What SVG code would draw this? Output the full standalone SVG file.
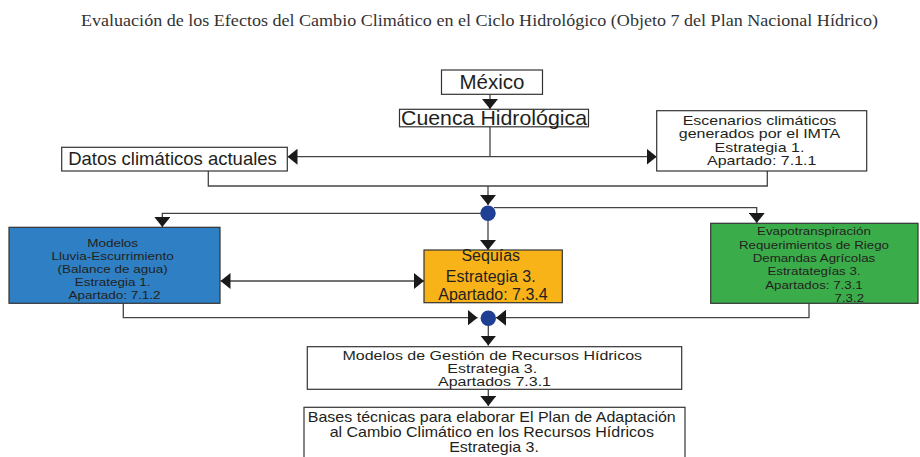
<svg xmlns="http://www.w3.org/2000/svg" width="920" height="457" viewBox="0 0 920 457">
<defs>
<marker id="ah" markerUnits="userSpaceOnUse" markerWidth="11" markerHeight="16" refX="10" refY="8" orient="auto-start-reverse" viewBox="0 0 11 16">
<path d="M0,0 L10,8 L0,16 Z" fill="#1a1a1a"/>
</marker>
<style>
.bx{stroke:#333;stroke-width:1.2;fill:#fff}
.t{font-family:"Liberation Sans",Arial,sans-serif;fill:#231f20;text-anchor:middle}
.c{fill:none;stroke:#444;stroke-width:1.3}
.a{fill:none;stroke:#444;stroke-width:1.3;marker-end:url(#ah)}
.dot{fill:#1f3f94}
</style>
</defs>
<rect width="920" height="457" fill="#fff"/>
<text x="81" y="26" font-family="'Liberation Serif','Times New Roman',serif" font-size="16.5" fill="#333" textLength="797" lengthAdjust="spacingAndGlyphs">Evaluación de los Efectos del Cambio Climático en el Ciclo Hidrológico  (Objeto 7 del Plan Nacional Hídrico)</text>

<g id="connectors">
<path class="a" d="M490,94.3 V109"/>
<path class="c" d="M490,126.7 V156.7"/>
<path class="a" d="M490,156.7 H656.7"/>
<path class="a" d="M490,156.7 H287.5"/>
<path class="c" d="M208.3,171 V186 H767.3 V171"/>
<path class="a" d="M488,186 V205"/>
<path class="a" d="M482,213.3 H162.3 V227"/>
<path class="a" d="M494,207.7 H756.7 V223"/>
<path class="a" d="M488,220 V250"/>
<path class="a" d="M220.5,281 H424" marker-start="url(#ah)"/>
<path class="a" d="M123.3,303.3 V317.7 H477.5"/>
<path class="a" d="M809,303.3 V317.7 H496"/>
<path class="a" d="M488.3,325 V345.5"/>
<path class="a" d="M488.3,389.3 V406"/>
</g>

<g id="junction1"><circle class="dot" cx="488" cy="213.3" r="7.7"/></g>
<g id="junction2"><circle class="dot" cx="488.3" cy="318.3" r="7.7"/></g>

<g id="mexico">
<rect class="bx" x="441.5" y="70" width="101" height="24.3"/>
<text class="t" x="492" y="88.5" font-size="20.5">México</text>
</g>
<g id="cuenca">
<rect class="bx" x="399.5" y="109.3" width="189" height="17.5"/>
<text class="t" x="494" y="125" font-size="21" textLength="186" lengthAdjust="spacingAndGlyphs">Cuenca Hidrológica</text>
</g>
<g id="datos">
<rect class="bx" x="61.7" y="147.3" width="225.6" height="23.7"/>
<text class="t" x="172.5" y="164.5" font-size="18.5">Datos climáticos actuales</text>
</g>
<g id="escenarios">
<rect class="bx" x="656.7" y="110.7" width="210" height="60.3"/>
<text class="t" font-size="16" transform="translate(761.7,125) scale(1,0.83)">
<tspan x="0" y="0">Escenarios climáticos</tspan>
<tspan x="0" y="16">generados por el IMTA</tspan>
<tspan x="0" y="32">Estrategia 1.</tspan>
<tspan x="0" y="48">Apartado: 7.1.1</tspan>
</text>
</g>
<g id="modelos-lluvia">
<rect class="bx" x="9" y="227.3" width="211" height="76" style="fill:#2e7fc4"/>
<text class="t" font-size="13.5" transform="translate(114.5,246.5) scale(1,0.86)">
<tspan x="0" y="0">Modelos</tspan>
<tspan x="0" y="15.2">Lluvia-Escurrimiento</tspan>
<tspan x="0" y="30.4">(Balance de agua)</tspan>
<tspan x="0" y="45.6">Estrategia 1.</tspan>
<tspan x="0" y="60.8">Apartado: 7.1.2</tspan>
</text>
</g>
<g id="sequias">
<rect class="bx" x="424" y="250" width="138.3" height="52.7" style="fill:#f8b319"/>
<text class="t" font-size="16">
<tspan x="493" y="261">Sequías</tspan>
<tspan x="493" y="281.5">Estrategia 3.</tspan>
<tspan x="493" y="300">Apartado: 7.3.4</tspan>
</text>
</g>
<g id="evapotranspiracion">
<rect class="bx" x="710.7" y="223.3" width="207.3" height="80" style="fill:#3bac4a"/>
<text class="t" font-size="13.3" transform="translate(815.8,235.3) scale(1,0.87)">
<tspan x="0" y="0">Evapotranspiración</tspan>
<tspan x="0" y="15.3">Requerimientos de Riego</tspan>
<tspan x="0" y="30.6">Demandas Agrícolas</tspan>
<tspan x="0" y="45.9">Estratategías 3.</tspan>
<tspan x="0" y="61.2">Apartados: 7.3.1</tspan>
<tspan x="33.5" y="76.5">7.3.2</tspan>
</text>
</g>
<g id="gestion">
<rect class="bx" x="307.3" y="346.7" width="374.4" height="42.6"/>
<text class="t" font-size="16" transform="translate(494.5,360) scale(1,0.82)">
<tspan x="0" y="0">Modelos de Gestión de Recursos Hídricos</tspan>
<tspan x="0" y="15.9">Estrategia 3.</tspan>
<tspan x="0" y="31.8">Apartados 7.3.1</tspan>
</text>
</g>
<g id="bases">
<rect class="bx" x="304" y="407.3" width="381" height="70"/>
<text class="t" font-size="16" transform="translate(494,421.7) scale(1,0.92)">
<tspan x="0" y="0">Bases técnicas para elaborar El Plan de Adaptación</tspan>
<tspan x="0" y="16.3">al Cambio Climático en los Recursos Hídricos</tspan>
<tspan x="0" y="32.6">Estrategia 3.</tspan>
</text>
</g>
</svg>
